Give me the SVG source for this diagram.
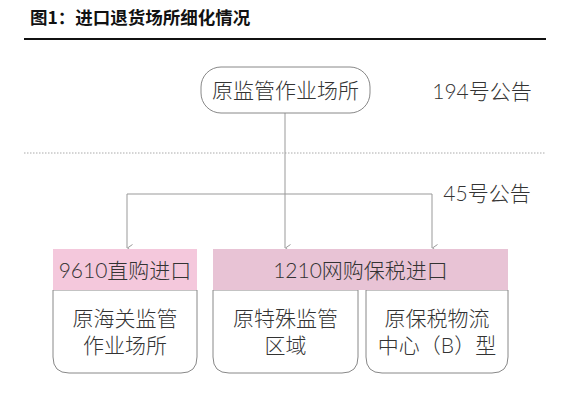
<svg xmlns="http://www.w3.org/2000/svg" width="570" height="409" viewBox="0 0 570 409">
<style>
.t{font-family:"Lato","Noto Sans CJK SC",sans-serif;font-weight:300;fill:#333;font-size:21px;text-anchor:middle}
.title{font-family:"Noto Sans CJK SC","Noto Sans",sans-serif;font-weight:700;fill:#111;font-size:17.5px}
.conn{fill:none;stroke:#999;stroke-width:1}
.box{fill:#fff;stroke:#888;stroke-width:1}
</style>
<defs>
<marker id="arr" viewBox="0 0 8 6" refX="4" refY="6" markerWidth="8" markerHeight="6" markerUnits="userSpaceOnUse" orient="auto-start-reverse">
<path d="M0.5,0.5 L4,5.5 L7.5,0.5" fill="none" stroke="#999" stroke-width="1"/>
</marker>
</defs>
<rect width="570" height="409" fill="#fff"/>
<g id="title">
<text class="title" x="30" y="24">图1：进口退货场所细化情况</text>
<line x1="24" y1="39" x2="546" y2="39" stroke="#111" stroke-width="2"/>
</g>
<line x1="24" y1="153" x2="546" y2="153" stroke="#aaa" stroke-width="1" stroke-dasharray="1.5 1.5"/>
<g id="connectors">
<path class="conn" d="M285,113 V248" marker-end="url(#arr)"/>
<path class="conn" d="M127,248 V194 H432 V248" marker-start="url(#arr)" marker-end="url(#arr)"/>
</g>
<g id="top">
<rect class="box" x="201" y="67" width="169" height="46" rx="20" ry="20" stroke="#777"/>
<text class="t" x="285.5" y="98">原监管作业场所</text>
</g>
<text class="t" x="482" y="99">194号公告</text>
<text class="t" x="487" y="201">45号公告</text>
<g id="box9610">
<path class="box" d="M53,290 H197 V357 Q197,373 181,373 H69 Q53,373 53,357 Z"/>
<rect x="53" y="249" width="144" height="41" fill="#f4c8dc"/>
<text class="t" x="125" y="278">9610直购进口</text>
<text class="t" y="326"><tspan x="125">原海关监管</tspan><tspan x="125" dy="27">作业场所</tspan></text>
</g>
<g id="box1210">
<path class="box" d="M213,290 H358 V357 Q358,373 342,373 H229 Q213,373 213,357 Z"/>
<path class="box" d="M366,290 H508 V357 Q508,373 492,373 H382 Q366,373 366,357 Z"/>
<rect x="213" y="249" width="295" height="41" fill="#e8c3d5"/>
<text class="t" x="360.5" y="278">1210网购保税进口</text>
<text class="t" y="326"><tspan x="285.5">原特殊监管</tspan><tspan x="285.5" dy="27">区域</tspan></text>
<text class="t" y="326"><tspan x="437">原保税物流</tspan><tspan x="437" dy="27">中心（B）型</tspan></text>
</g>
</svg>
